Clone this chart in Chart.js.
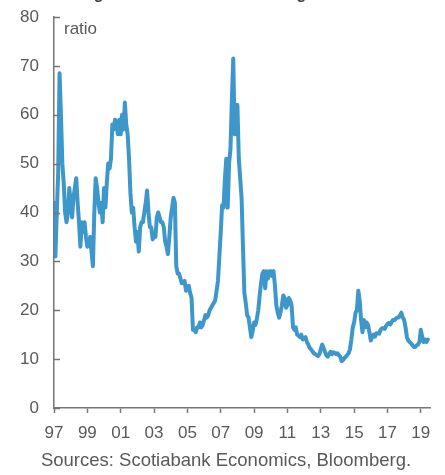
<!DOCTYPE html>
<html>
<head>
<meta charset="utf-8">
<script src="https://cdn.jsdelivr.net/npm/chart.js@4.4.1/dist/chart.umd.min.js"></script>
<style>
  html, body { margin: 0; padding: 0; background: #fff; }
  #wrap { position: relative; width: 445px; height: 475px; }
</style>
</head>
<body>
<div id="wrap"><canvas id="ratioChart" width="445" height="475"></canvas></div>
<script>
const titleText = 'Earnings Ratio Now Far Below Highs';
const unitLabel = 'ratio';
const sourceText = 'Sources: Scotiabank Economics, Bloomberg.';

// monthly readings, first value = Jan 1997
const startYear = 1997;
const ratio = [
    42, 31, 40, 48, 68.5, 60, 50, 46, 40, 38, 40, 45,
    42, 39, 43, 45, 47, 42, 38, 33, 38, 36, 38, 35,
    33, 34, 35, 32, 29, 40, 47, 45, 42, 40, 42, 38,
    45, 41, 46, 50, 49, 51, 58, 57, 59, 58, 56, 59,
    56, 60, 57, 62.5, 58, 56, 51, 44, 40, 41, 37, 34,
    36, 32, 37, 38, 38, 40, 42, 44.5, 40, 37, 37, 34.5,
    35, 35, 39, 40, 39, 38, 38, 37, 34, 33, 31.5, 35,
    39, 41, 43, 42, 29, 27.5, 27.5, 26.5, 25.5, 25.5, 26, 24,
    24.5, 25, 23.5, 22.5, 16, 16, 15.5, 16.5, 16.5, 17.5, 16.5, 17,
    18, 19, 18.5, 19, 20, 20.5, 21, 21.5, 22, 24, 26, 31,
    36, 41.5, 41, 47, 51, 41, 50, 53, 63, 71.5, 56, 62,
    62, 51, 47, 43, 33, 23.5, 21.5, 19, 18.5, 16.5, 14.5, 15.8,
    17.5, 17, 18.3, 20, 23, 25.5, 27.5, 28, 24.5, 28, 26.5, 28,
    28, 27, 28, 25, 21, 19.5, 18.5, 19.5, 21, 23, 22.5, 20.5,
    21, 22.5, 22, 21, 16.5, 16, 16.5, 15, 14.8, 14.5, 15, 14,
    14.3, 14.5, 13.5, 13, 12.3, 12, 11.6, 11.2, 11, 10.8, 10.6, 11,
    12, 13, 12.3, 11.5, 10.8, 10.5, 11, 11.5, 11, 11.4, 11.3, 11,
    11.2, 10.8, 10.5, 9.6, 9.8, 10.2, 10.5, 10.8, 11.2, 12, 14, 16.5,
    17.5, 19.5, 20, 24, 22, 18, 15.5, 18, 16.5, 17.5, 17, 15.5,
    13.8, 14.5, 15, 14.6, 15.3, 15.3, 15.2, 16, 16.3, 16.3, 16.2, 16.8,
    17.2, 17.4, 17.1, 17.6, 18, 18, 18.3, 18.5, 18.5, 19, 19.5, 18.5,
    18, 16.5, 14.5, 13.8, 13.5, 13.2, 12.8, 12.5, 12.5, 12.8, 13, 13.5,
    16, 14.5, 13.5, 14, 13.5, 14
];
const tickYears = [1997, 1999, 2001, 2003, 2005, 2007, 2009, 2011, 2013, 2015, 2017, 2019];

const lineColor = '#3d97cb';
const axisColor = '#767676';
const textColor = '#595959';
const fontFamily = '"Liberation Sans", Arial, sans-serif';

const points = ratio.map((v, i) => ({x: startYear + i / 12, y: v}));

// title (clipped at the top), unit label, source line and inward y ticks
const extrasPlugin = {
    id: 'extras',
    afterDraw(chart) {
        const ctx = chart.ctx;
        const area = chart.chartArea;
        const yScale = chart.scales.y;
        ctx.save();
        ctx.strokeStyle = axisColor;
        ctx.lineWidth = 1.5;
        yScale.ticks.forEach(t => {
            const py = Math.round(yScale.getPixelForValue(t.value)) + 0.5;
            ctx.beginPath();
            ctx.moveTo(area.left, py);
            ctx.lineTo(area.left + 6, py);
            ctx.stroke();
        });

        ctx.fillStyle = textColor;
        ctx.font = '17px ' + fontFamily;
        ctx.textBaseline = 'middle';
        ctx.textAlign = 'left';
        ctx.fillText(unitLabel, area.left + 10, area.top + 12);

        ctx.font = '18.5px ' + fontFamily;
        ctx.textAlign = 'center';
        ctx.fillText(sourceText, 226, 461);

        ctx.fillStyle = '#404040';
        ctx.font = 'bold 16px ' + fontFamily;
        ctx.textAlign = 'left';
        ctx.textBaseline = 'alphabetic';
        ctx.fillText(titleText, 44, -1);
        ctx.restore();
    }
};

new Chart(document.getElementById('ratioChart'), {
    type: 'line',
    data: {
        datasets: [{
            data: points,
            borderColor: lineColor,
            borderWidth: 4,
            pointRadius: 0,
            tension: 0,
            borderJoinStyle: 'round',
            borderCapStyle: 'round'
        }]
    },
    plugins: [extrasPlugin],
    options: {
        responsive: false,
        animation: false,
        layout: {padding: {top: 17, right: 15, bottom: 35, left: 0}},
        plugins: {legend: {display: false}, tooltip: {enabled: false}},
        scales: {
            x: {
                type: 'linear',
                min: 1997,
                max: 2019.55,
                afterBuildTicks: scale => { scale.ticks = tickYears.map(v => ({value: v})); },
                afterFit: scale => { scale.height = 32; scale.paddingLeft = 0; scale.paddingRight = 0; },
                border: {display: true, color: axisColor, width: 1.5},
                grid: {display: true, drawOnChartArea: false, drawTicks: true, tickLength: 5, tickColor: axisColor, tickWidth: 1.5},
                ticks: {
                    color: textColor,
                    font: {family: fontFamily, size: 17},
                    padding: 10,
                    maxRotation: 0,
                    autoSkip: false,
                    callback: v => String(v).slice(2)
                }
            },
            y: {
                min: 0,
                max: 80,
                afterFit: scale => { scale.width = 54; scale.paddingTop = 0; scale.paddingBottom = 0; },
                border: {display: true, color: axisColor, width: 1.5},
                grid: {display: false, drawTicks: false},
                ticks: {
                    stepSize: 10,
                    color: textColor,
                    font: {family: fontFamily, size: 17},
                    padding: 15
                }
            }
        }
    }
});
</script>
</body>
</html>
